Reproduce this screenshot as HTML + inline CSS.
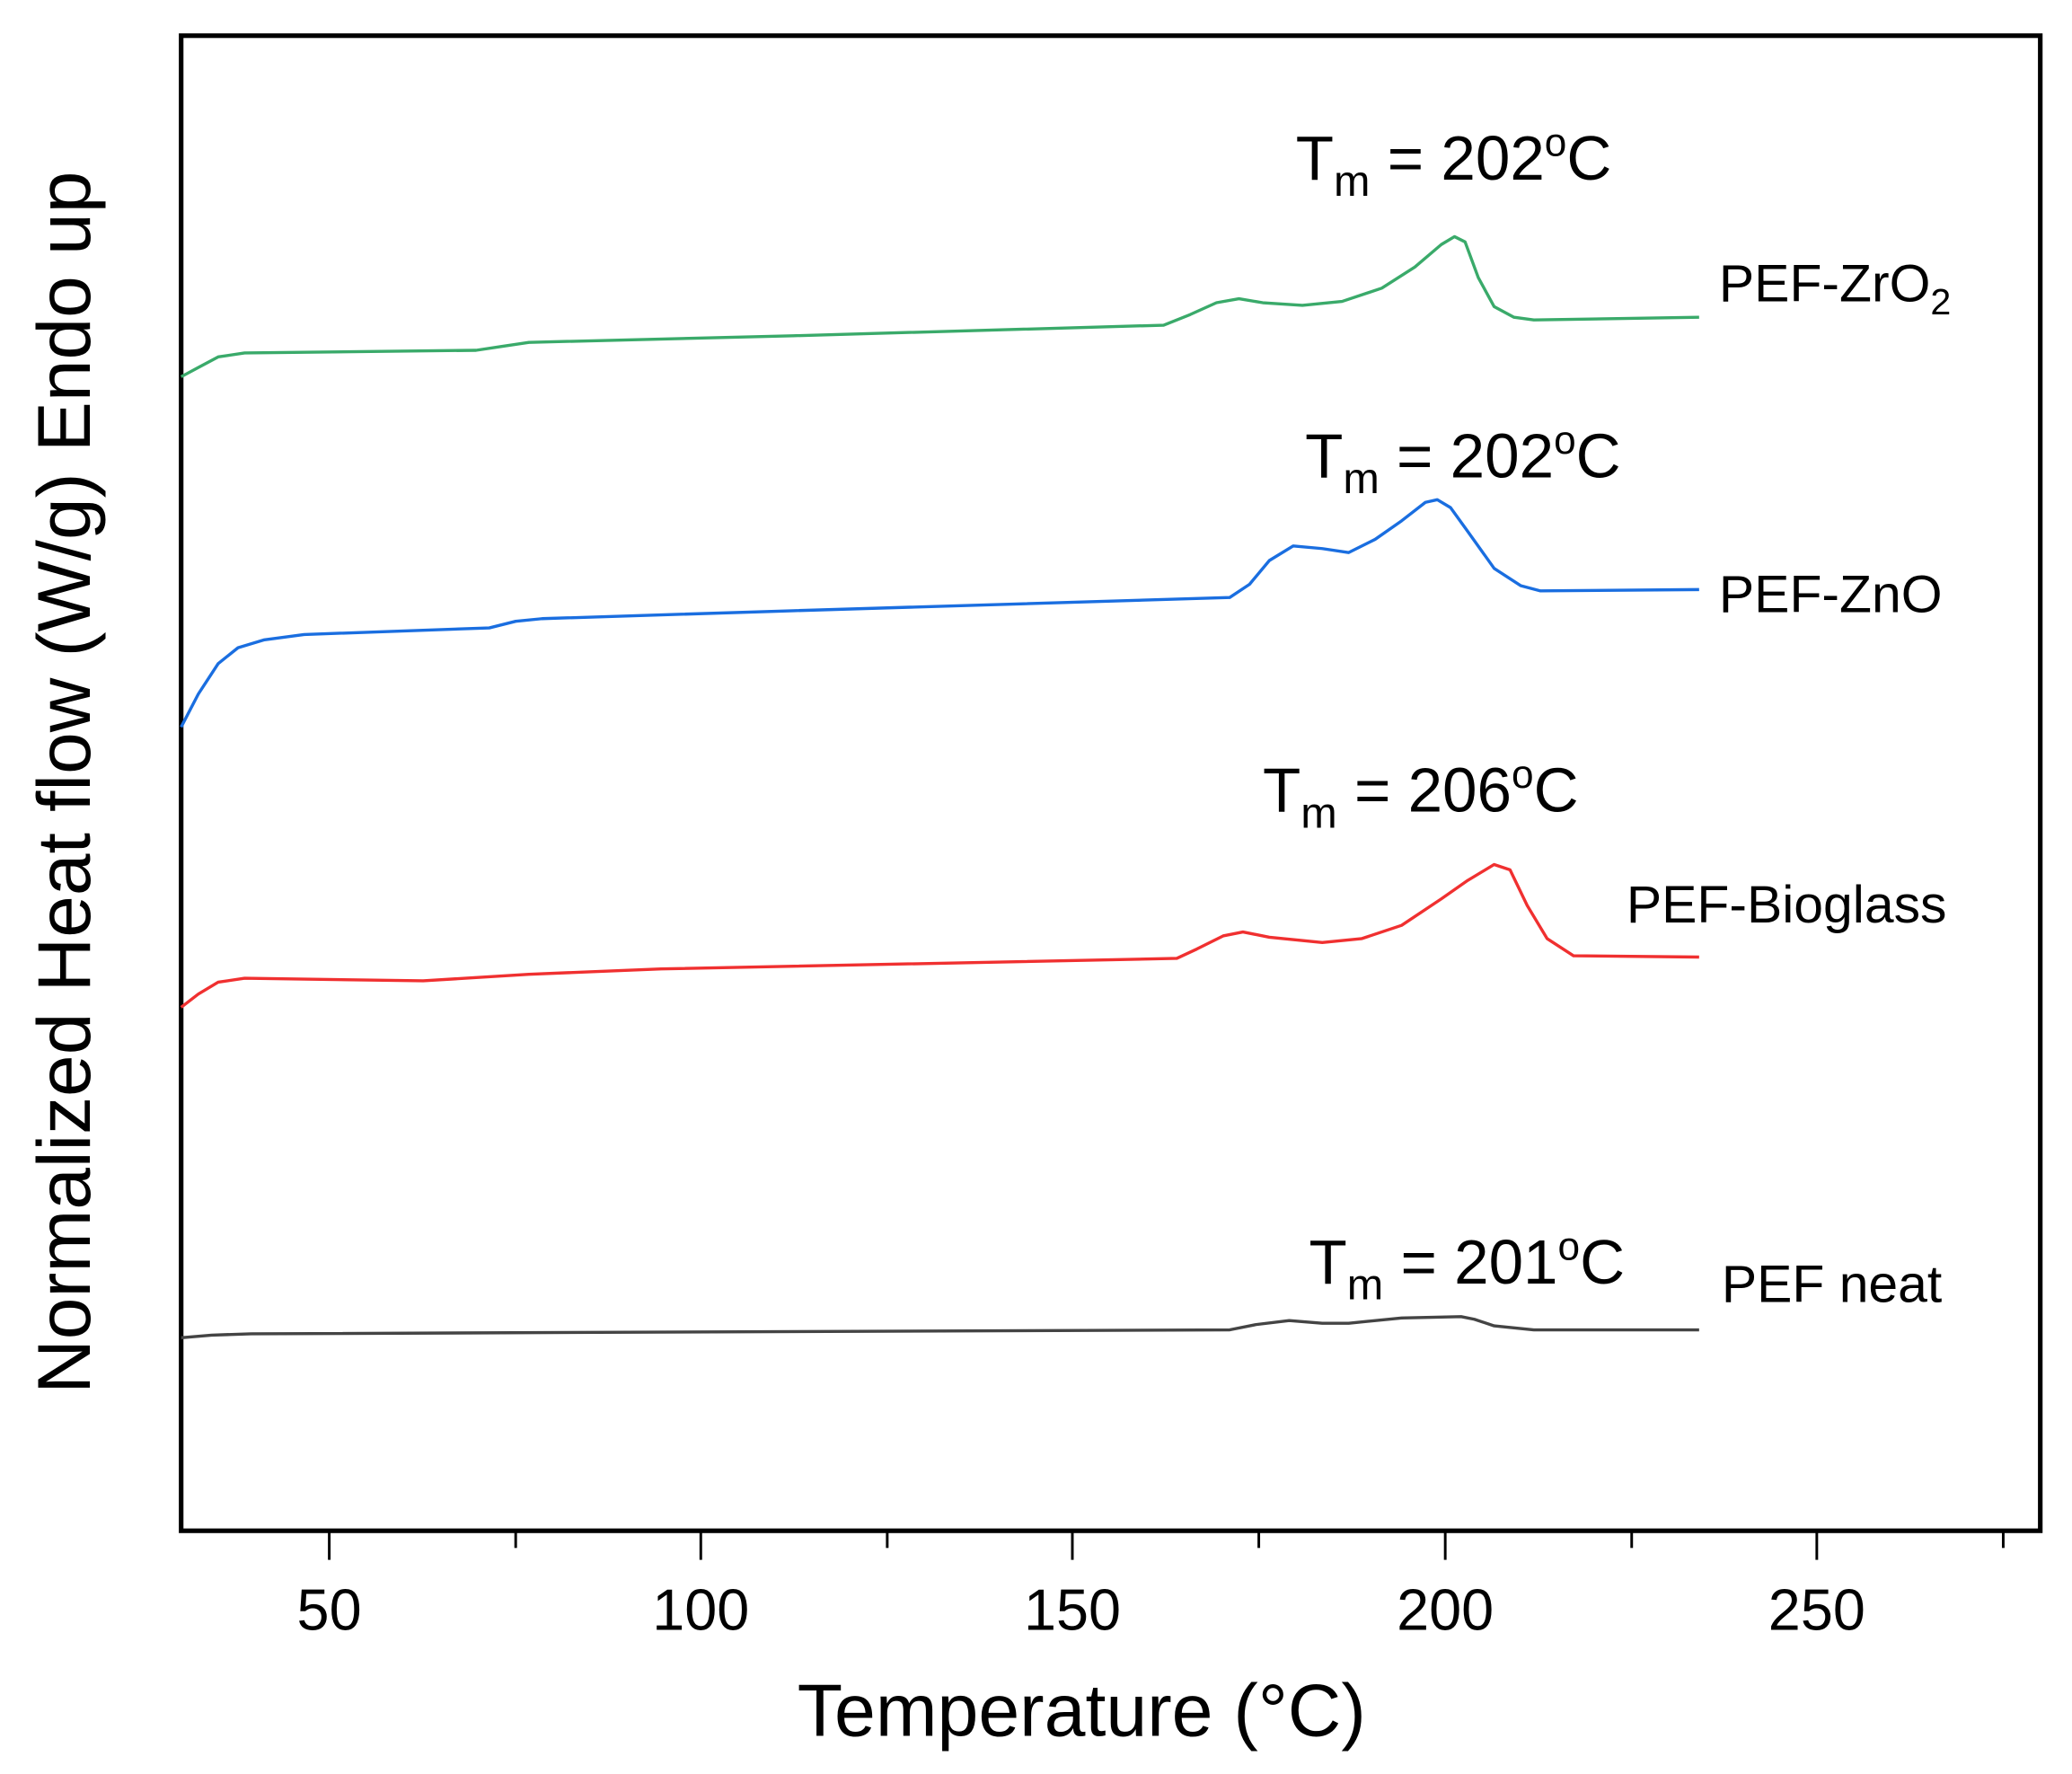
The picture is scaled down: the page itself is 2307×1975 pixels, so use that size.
<!DOCTYPE html>
<html><head><meta charset="utf-8"><style>html,body{margin:0;padding:0;background:#fff}svg{display:block}</style></head>
<body>
<svg width="2307" height="1975" viewBox="0 0 1567 1342" preserveAspectRatio="none" xmlns="http://www.w3.org/2000/svg" font-family="Liberation Sans, Arial, sans-serif">
<rect x="137" y="27" width="1406" height="1131" fill="none" stroke="#000" stroke-width="3.5"/>
<g stroke="#000" stroke-width="2">
<line x1="249" y1="1158" x2="249" y2="1180"/><line x1="530" y1="1158" x2="530" y2="1180"/><line x1="811" y1="1158" x2="811" y2="1180"/><line x1="1093" y1="1158" x2="1093" y2="1180"/><line x1="1374" y1="1158" x2="1374" y2="1180"/>
<line x1="390" y1="1158" x2="390" y2="1171"/><line x1="671" y1="1158" x2="671" y2="1171"/><line x1="952" y1="1158" x2="952" y2="1171"/><line x1="1234" y1="1158" x2="1234" y2="1171"/><line x1="1515" y1="1158" x2="1515" y2="1171"/>
</g>
<g font-size="44" text-anchor="middle" fill="#000">
<text x="249" y="1233">50</text><text x="530" y="1233">100</text><text x="811" y="1233">150</text><text x="1093" y="1233">200</text><text x="1374" y="1233">250</text>
</g>
<text x="818" y="1313" font-size="56" text-anchor="middle">Temperature (°C)</text>
<text transform="translate(68,592) rotate(-90)" font-size="57" text-anchor="middle">Normalized Heat flow (W/g) Endo up</text>
<g fill="none" stroke-width="2.3" stroke-linejoin="round">
<polyline stroke="#3aaa6a" points="137,285 150,278 165,270 185,267 360,265 380,262 400,259 600,254 880,246 900,238 920,229 937,226 955,229 985,231 1015,228 1045,218 1070,202 1090,185 1100,179 1108,183 1118,210 1130,232 1145,240 1160,242 1285,240"/>
<polyline stroke="#1a6ee0" points="137,550 150,525 165,502 180,490 200,484 230,480 370,475 390,470 410,468 600,462 930,452 945,442 960,424 978,413 1000,415 1020,418 1040,408 1060,394 1078,380 1087,378 1097,384 1110,402 1130,430 1150,443 1165,447 1285,446"/>
<polyline stroke="#f03030" points="137,762 150,752 165,743 185,740 320,742 400,737 500,733 890,725 905,718 925,708 940,705 960,709 1000,713 1030,710 1060,700 1090,680 1110,666 1130,654 1142,658 1155,685 1170,710 1190,723 1285,724"/>
<polyline stroke="#444" points="137,1012 160,1010 190,1009 930,1006 950,1002 975,999 1000,1001 1020,1001 1060,997 1105,996 1115,998 1130,1003 1160,1006 1285,1006"/>
</g>
<g font-size="47" fill="#000">
<text x="980" y="136">T<tspan font-size="33" dy="12">m</tspan><tspan dy="-12"> = 202</tspan><tspan font-size="30" dy="-18">o</tspan><tspan dy="18">C</tspan></text>
<text x="987" y="361">T<tspan font-size="33" dy="12">m</tspan><tspan dy="-12"> = 202</tspan><tspan font-size="30" dy="-18">o</tspan><tspan dy="18">C</tspan></text>
<text x="955" y="614">T<tspan font-size="33" dy="12">m</tspan><tspan dy="-12"> = 206</tspan><tspan font-size="30" dy="-18">o</tspan><tspan dy="18">C</tspan></text>
<text x="990" y="971">T<tspan font-size="33" dy="12">m</tspan><tspan dy="-12"> = 201</tspan><tspan font-size="30" dy="-18">o</tspan><tspan dy="18">C</tspan></text>
</g>
<g font-size="40" fill="#000">
<text x="1300" y="228">PEF-ZrO<tspan font-size="28" dy="10">2</tspan></text>
<text x="1300" y="463">PEF-ZnO</text>
<text x="1230" y="698">PEF-Bioglass</text>
<text x="1302" y="985">PEF neat</text>
</g>
</svg>
</body></html>
